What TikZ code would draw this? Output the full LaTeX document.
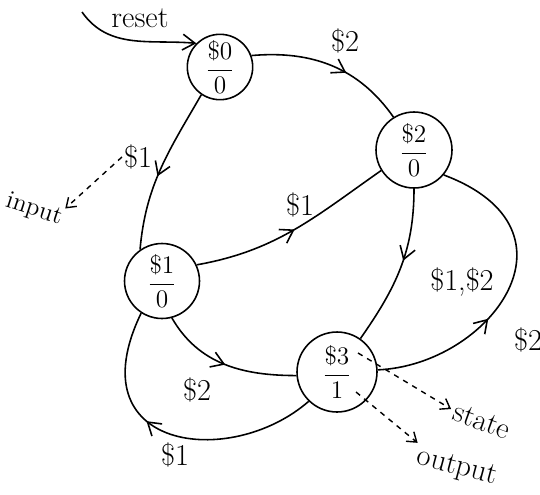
\documentclass[tikz,border=0pt]{standalone}
\usepackage{amsmath}
\usetikzlibrary{positioning, arrows.meta, decorations.markings}

\begin{document}
\begin{tikzpicture}[
  x=0.02cm, y=-0.02cm,
  state/.style={circle, draw, line width=0.9pt, inner sep=1pt, font=\Large},
  edge/.style={line width=0.9pt},
  midarr/.style={edge, postaction={decorate}, decoration={markings,
      mark=at position #1 with {\arrow{Straight Barb[length=7pt, width=9pt, line width=0.9pt]}}}},
  endarr/.style={edge, -{Straight Barb[length=7pt, width=9pt, line width=0.9pt]}},
  dasharr/.style={dashed, line width=0.8pt, -{Straight Barb[length=5pt, width=7pt]}},
  lbl/.style={font=\LARGE, inner sep=1pt},
  note/.style={font=\LARGE, inner sep=0pt},
]
\useasboundingbox (0,0) rectangle (540,494);

% States (amount / output)
\node[state, minimum size=1.22cm] (s0) at (220,67)  {$\dfrac{\$0}{0}$};
\node[state, minimum size=1.5cm]  (s1) at (162,281) {$\dfrac{\$1}{0}$};
\node[state, minimum size=1.52cm] (s2) at (414,150) {$\dfrac{\$2}{0}$};
\node[state, minimum size=1.6cm]  (s3) at (337,372) {$\dfrac{\$3}{1}$};

% Reset entry
\coordinate (rst) at (82,12);
\node[lbl] (lrst) at (140,18) {reset};
\draw[endarr] (rst) to[out=-55, in=175] (s0.135);

% Transitions
\draw[midarr=0.6]  (s0.20)  to[out=5, in=125] (s2.122);
\draw[midarr=0.55] (s0.236) to[out=-120, in=85] (s1.125);
\draw[midarr=0.5]  (s1.25)  to[out=10, in=215] (s2.212);
\draw[midarr=0.45] (s2.-90) to[out=-90, in=55] (s3.55);
\draw[midarr=0.5]  (s1.-75) to[out=-60, in=180] (s3.185);
\draw[midarr=0.4]  (s3.3) .. controls (490,365) and (590,230) .. (s2.-40);
\draw[midarr=0.6]  (s3.226) .. controls (230,470) and (75,450) .. (s1.237);

% Transition labels
\node[lbl] (l02) at (345,41)  {\$2};
\node[lbl] (l01) at (138,157) {\$1};
\node[lbl] (l12) at (300,205) {\$1};
\node[lbl] (l23) at (462,282) {\$1,\$2};
\node[lbl] (l32) at (528,340) {\$2};
\node[lbl] (l13) at (197,390) {\$2};
\node[lbl] (l31) at (175,455) {\$1};

% Annotations
\node[note, font=\Large, rotate=-18] (inp) at (34,210) {input};
\node[note, rotate=-20] (st) at (482,421) {state};
\node[note, rotate=-15] (outp) at (457,468) {output};
\coordinate (s3a) at (358,353);
\coordinate (s3b) at (356,392);
\draw[dasharr] (l01.west) -- (inp.north east);
\draw[dasharr, shorten >=2pt] (s3a) -- (st.west);
\draw[dasharr, shorten >=2pt] (s3b) -- (outp.north west);

\end{tikzpicture}
\end{document}
